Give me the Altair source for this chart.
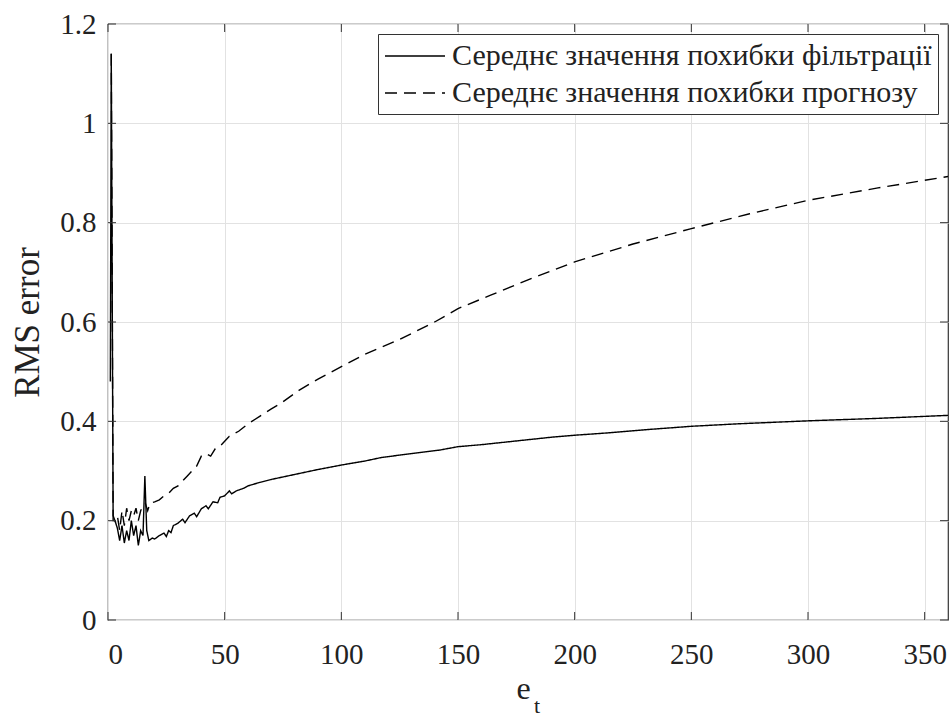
import altair as alt
import pandas as pd

series_names = ["Середнє значення похибки фільтрації", "Середнє значення похибки прогнозу"]

filt_x = [1, 1.4, 2.2, 3, 4, 5, 6, 7, 8, 9, 10, 11, 12, 13, 14, 15, 15.8, 16.6, 17.5,
          19, 20, 22, 24, 25, 26, 27, 28, 30, 32, 33, 35, 37, 38, 40, 42, 43, 45, 47, 48,
          50, 52, 53, 55, 58, 60, 65, 70, 75, 80, 90, 100, 110, 117, 125, 135, 142, 150,
          160, 168, 180, 190, 200, 215, 230, 250, 270, 300, 330, 360]
filt_y = [0.48, 1.14, 0.20, 0.20, 0.185, 0.16, 0.19, 0.155, 0.18, 0.16, 0.20, 0.17, 0.19, 0.15, 0.18, 0.17, 0.29, 0.18, 0.16,
          0.165, 0.163, 0.17, 0.175, 0.168, 0.18, 0.176, 0.19, 0.195, 0.203, 0.196, 0.21, 0.215, 0.208, 0.224, 0.23, 0.224, 0.238, 0.236, 0.247,
          0.25, 0.26, 0.254, 0.26, 0.265, 0.27, 0.277, 0.283, 0.288, 0.293, 0.303, 0.312, 0.32, 0.327, 0.332, 0.338, 0.342, 0.349,
          0.353, 0.357, 0.363, 0.368, 0.372, 0.377, 0.383, 0.390, 0.395, 0.401, 0.406, 0.412]

pred_x = [1.4, 2.2, 3, 4, 5, 6, 7, 8, 9, 10, 11, 12, 13, 14, 15, 16, 17, 18, 20, 22, 24, 26,
          28, 30, 32, 34, 36, 38, 40, 42, 44, 46, 48, 50, 52, 54, 56, 60, 65, 70, 74, 82, 90,
          100, 110, 125, 140, 150, 164, 180, 200, 225, 250, 275, 300, 330, 360]
pred_y = [1.14, 0.21, 0.20, 0.21, 0.18, 0.22, 0.19, 0.225, 0.20, 0.22, 0.21, 0.225, 0.20, 0.22, 0.23, 0.235, 0.22, 0.235, 0.238, 0.242, 0.25, 0.255,
          0.265, 0.27, 0.28, 0.29, 0.30, 0.31, 0.33, 0.335, 0.33, 0.345, 0.35, 0.36, 0.37, 0.375, 0.38, 0.395, 0.41, 0.425, 0.436, 0.463, 0.485,
          0.510, 0.535, 0.565, 0.600, 0.627, 0.654, 0.685, 0.721, 0.757, 0.788, 0.818, 0.845, 0.870, 0.893]

x_ticks = [0, 50, 100, 150, 200, 250, 300, 350]
y_ticks = [0, 0.2, 0.4, 0.6, 0.8, 1, 1.2]

FONT = "Liberation Serif"
W, H = 840, 596
TICK = 8

df = pd.concat([
    pd.DataFrame({"et": filt_x, "rms": filt_y, "series": series_names[0]}),
    pd.DataFrame({"et": pred_x, "rms": pred_y, "series": series_names[1]}),
], ignore_index=True)
xt = pd.DataFrame({"v": x_ticks})
yt = pd.DataFrame({"v": y_ticks})

xscale = alt.Scale(domain=[0, 360], nice=False, zero=False)
yscale = alt.Scale(domain=[0, 1.2], nice=False, zero=False)

lines = alt.Chart(df).mark_line(color="black", strokeWidth=1.4, clip=True).encode(
    x=alt.X("et:Q", scale=xscale,
            axis=alt.Axis(values=x_ticks, title="e", titleFontSize=32,
                          titleX=415, titleY=78,
                          titleBaseline="alphabetic", titleAlign="center",
                          labelFontSize=29, labelPadding=20,
                          ticks=False, domain=False, grid=True)),
    y=alt.Y("rms:Q", scale=yscale,
            axis=alt.Axis(values=y_ticks, format="~g", title="RMS error",
                          titleFontSize=35, titleX=-70, titleBaseline="alphabetic",
                          labelFontSize=29, labelPadding=12,
                          ticks=False, domain=False, grid=True)),
    strokeDash=alt.StrokeDash(
        "series:N",
        scale=alt.Scale(domain=series_names, range=[[1, 0], [12, 7]]),
        legend=alt.Legend(title=None, orient="none", legendX=270, legendY=10,
                          symbolType="M-1,0H3", symbolSize=900, symbolStrokeWidth=1.4,
                          symbolStrokeColor="black", symbolFillColor="transparent",
                          labelFontSize=30, labelLimit=800, labelOffset=36,
                          rowPadding=6, padding=6, strokeColor="#333",
                          fillColor="white", cornerRadius=0)),
    detail="series:N",
)

tick_b = alt.Chart(xt).mark_rule(color="#333", strokeWidth=1).encode(
    x=alt.X("v:Q", scale=xscale), y=alt.value(H), y2=alt.value(H - TICK))
tick_t = alt.Chart(xt).mark_rule(color="#333", strokeWidth=1).encode(
    x=alt.X("v:Q", scale=xscale), y=alt.value(0), y2=alt.value(TICK))
tick_l = alt.Chart(yt).mark_rule(color="#333", strokeWidth=1).encode(
    y=alt.Y("v:Q", scale=yscale), x=alt.value(0), x2=alt.value(TICK))
tick_r = alt.Chart(yt).mark_rule(color="#333", strokeWidth=1).encode(
    y=alt.Y("v:Q", scale=yscale), x=alt.value(W), x2=alt.value(W - TICK))

sub_t = alt.Chart(pd.DataFrame({"s": ["t"]})).mark_text(
    font=FONT, fontSize=22, color="#222", align="left", baseline="alphabetic"
).encode(text="s:N", x=alt.value(426), y=alt.value(689))

chart = alt.layer(lines, tick_b, tick_t, tick_l, tick_r, sub_t).properties(
    width=W, height=H,
    autosize=alt.AutoSizeParams(type="none"),
    padding={"left": 108, "top": 24, "right": 4, "bottom": 102},
).configure(
    background="white", font=FONT
).configure_view(
    stroke="#333", strokeWidth=1.2
).configure_axis(
    labelFont=FONT, titleFont=FONT, labelColor="#222", titleColor="#222",
    titleFontWeight="normal", gridColor="#e2e2e2", gridWidth=1
).configure_legend(
    labelFont=FONT, labelColor="#222"
).configure_text(font=FONT)

chart.save("out.html", embed_options={"renderer": "svg", "actions": False})
